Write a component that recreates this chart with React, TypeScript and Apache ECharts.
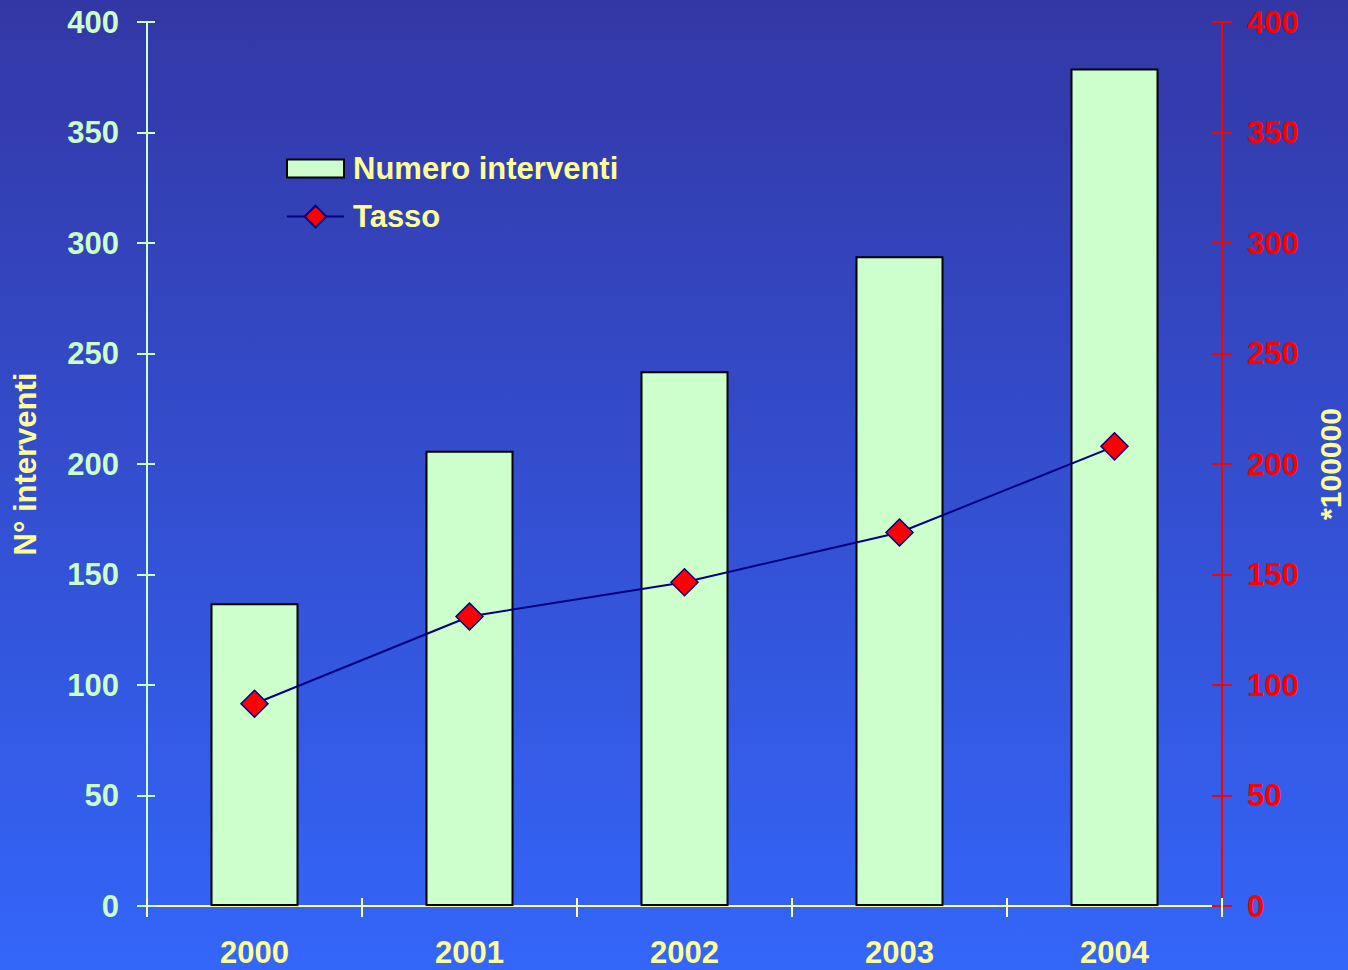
import React, { useEffect, useRef } from "react";
import * as echarts from "echarts";

const years = ["2000", "2001", "2002", "2003", "2004"];
const interventi = [137, 206, 242, 294, 379];
const tasso = [91.5, 131, 146.5, 169, 208];

const FONT = "'Liberation Sans', Arial, sans-serif";
const GREEN = "#CCFFCC";
const YELLOW = "#FFFF99";
const RED = "#FF0000";
const NAVY = "#000080";
const FS = 31;

export default function App() {
  const ref = useRef<HTMLDivElement>(null);
  useEffect(() => {
    const chart = echarts.init(ref.current!, null, { renderer: "svg" });
    const yBase = { type: "value", min: 0, max: 400, interval: 50, splitLine: { show: false } };
    const legendText = { color: YELLOW, fontSize: FS, fontWeight: "bold", fontFamily: FONT, padding: [0, 0, 0, 4] };
    chart.setOption({
      animation: false,
      backgroundColor: {
        type: "linear", x: 0, y: 0, x2: 0, y2: 1,
        colorStops: [
          { offset: 0, color: "#3337A5" },
          { offset: 1, color: "#3366FA" },
        ],
      },
      textStyle: { fontFamily: FONT },
      grid: { left: 147, right: 126, top: 22, bottom: 64, outerBoundsMode: "none", containLabel: false },
      legend: [
        {
          left: 286, top: 153, padding: 0,
          itemWidth: 57, itemHeight: 18,
          textStyle: legendText,
          data: [{ name: "Numero interventi", icon: "rect" }],
        },
        {
          left: 286, top: 201, padding: 0,
          itemWidth: 57, itemHeight: 27,
          textStyle: legendText,
          data: [{ name: "Tasso" }],
        },
      ],
      xAxis: [
        {
          type: "category", data: years, position: "bottom",
          axisLine: { lineStyle: { color: YELLOW, width: 2 } },
          axisTick: { show: true, length: 11, lineStyle: { color: YELLOW, width: 2 } },
          axisLabel: { color: YELLOW, fontSize: FS, lineHeight: 22, fontWeight: "bold", margin: 35, fontFamily: FONT },
        },
        {
          type: "category", data: years, position: "bottom",
          axisLine: { show: false },
          axisTick: { show: true, inside: true, length: 8, lineStyle: { color: YELLOW, width: 2 } },
          axisLabel: { show: false },
        },
      ],
      yAxis: [
        {
          ...yBase, position: "left",
          name: "N° interventi", nameLocation: "middle", nameGap: 106, nameRotate: 90,
          nameTextStyle: { color: YELLOW, fontSize: FS, fontWeight: "bold", fontFamily: FONT },
          axisLine: { show: true, lineStyle: { color: GREEN, width: 2 } },
          axisTick: { show: true, length: 10, lineStyle: { color: GREEN, width: 2 } },
          axisLabel: { color: GREEN, fontSize: FS, fontWeight: "bold", margin: 28, fontFamily: FONT },
        },
        {
          ...yBase, position: "right",
          name: "*100000", nameLocation: "middle", nameGap: 97, nameRotate: 90,
          nameTextStyle: { color: YELLOW, fontSize: 30, lineHeight: 22, fontWeight: "bold", fontFamily: FONT },
          axisLine: { show: true, lineStyle: { color: RED, width: 2 } },
          axisTick: { show: true, length: 10, lineStyle: { color: RED, width: 2 } },
          axisLabel: { color: RED, fontSize: FS, fontWeight: "bold", margin: 25, fontFamily: FONT },
        },
        {
          ...yBase, position: "left",
          axisLine: { show: false },
          axisTick: { show: true, inside: true, length: 8, lineStyle: { color: GREEN, width: 2 } },
          axisLabel: { show: false },
        },
        {
          ...yBase, position: "right",
          axisLine: { show: false },
          axisTick: { show: true, inside: true, length: 10, lineStyle: { color: RED, width: 2 } },
          axisLabel: { show: false },
        },
      ],
      series: [
        {
          name: "Numero interventi", type: "bar", data: interventi, barWidth: 88,
          xAxisIndex: 0, yAxisIndex: 0,
          itemStyle: { color: GREEN, borderColor: "#000000", borderWidth: 2 },
          z: 2,
        },
        {
          name: "Tasso", type: "line", data: tasso, xAxisIndex: 0, yAxisIndex: 1,
          symbol: "diamond", symbolSize: 27,
          lineStyle: { color: NAVY, width: 2 },
          itemStyle: { color: RED, borderColor: NAVY, borderWidth: 1.5 },
          z: 3,
        },
      ],
    });
    return () => chart.dispose();
  }, []);
  return <div ref={ref} style={{ width: 1348, height: 970, position: "absolute", left: 0, top: 0 }} />;
}
